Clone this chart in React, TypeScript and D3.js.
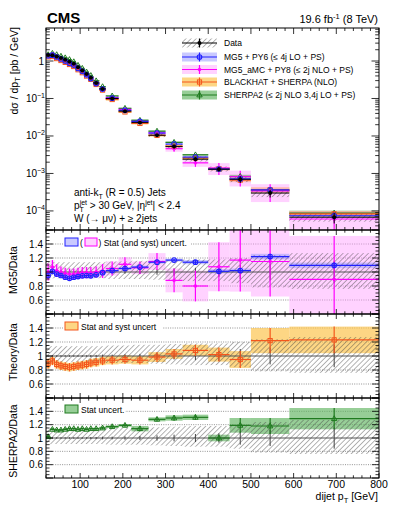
import React from "react";
import * as d3 from "d3";

// dijet pT binning [GeV]
const binEdges = [20, 30, 40, 50, 60, 70, 80, 90, 100, 110, 120, 130, 145, 160, 190, 220, 260, 300, 340, 400, 450, 500, 590, 800];

// measured cross section dsigma/dpT [pb/GeV]
const dataXsec = [1.45, 1.42, 1.32, 1.2, 1.08, 0.96, 0.84, 0.68, 0.56, 0.45, 0.36, 0.26, 0.18, 0.1, 0.046, 0.023, 0.0105, 0.0052, 0.0024, 0.0013, 0.0007, 0.0003, 0.000068];
const dataUncUp = [0.16, 0.14, 0.14, 0.14, 0.14, 0.14, 0.14, 0.14, 0.14, 0.14, 0.14, 0.14, 0.14, 0.15, 0.15, 0.16, 0.16, 0.17, 0.18, 0.18, 0.2, 0.24, 0.27];
const dataUncDown = [0.1, 0.09, 0.09, 0.09, 0.09, 0.09, 0.09, 0.09, 0.09, 0.09, 0.09, 0.09, 0.09, 0.1, 0.1, 0.1, 0.11, 0.12, 0.13, 0.13, 0.16, 0.22, 0.24];
const dataStat = [0.01, 0.01, 0.01, 0.01, 0.01, 0.01, 0.01, 0.01, 0.01, 0.01, 0.015, 0.015, 0.02, 0.02, 0.025, 0.03, 0.04, 0.05, 0.06, 0.07, 0.1, 0.12, 0.16];

// theory / data ratios and their relative uncertainties
const mg5Ratio = [0.95, 1.01, 0.97, 0.95, 0.925, 0.91, 0.925, 0.935, 0.945, 0.95, 0.945, 0.96, 0.99, 1.02, 1.05, 1.07, 1.14, 1.17, 1.14, 1.01, 1.02, 1.22, 1.095];
const mg5Unc = [0.03, 0.02, 0.02, 0.02, 0.02, 0.02, 0.02, 0.02, 0.02, 0.02, 0.02, 0.02, 0.02, 0.02, 0.02, 0.02, 0.02, 0.02, 0.03, 0.03, 0.03, 0.04, 0.04];
const amcRatio = [1.0, 1.07, 1.02, 1.0, 0.98, 0.97, 0.97, 0.98, 0.99, 0.99, 0.99, 1.0, 1.015, 1.05, 1.11, 1.06, 1.15, 0.88, 0.8, 1.075, 1.17, 1.15, 0.895];
const amcUnc = [0.12, 0.1, 0.09, 0.08, 0.08, 0.08, 0.08, 0.08, 0.08, 0.08, 0.08, 0.08, 0.1, 0.1, 0.1, 0.09, 0.12, 0.17, 0.22, 0.35, 0.45, 0.5, 0.62];
const bhRatio = [0.89, 0.93, 0.88, 0.86, 0.85, 0.84, 0.85, 0.86, 0.87, 0.88, 0.9, 0.91, 0.93, 0.94, 0.95, 0.94, 0.985, 1.03, 1.08, 1.02, 0.95, 1.22, 1.23];
const bhUnc = [0.07, 0.06, 0.06, 0.06, 0.06, 0.06, 0.06, 0.06, 0.06, 0.06, 0.06, 0.06, 0.06, 0.06, 0.06, 0.06, 0.07, 0.07, 0.08, 0.1, 0.12, 0.18, 0.19];
const sherpaRatio = [1.02, 1.13, 1.12, 1.12, 1.13, 1.14, 1.14, 1.13, 1.14, 1.13, 1.14, 1.14, 1.15, 1.17, 1.19, 1.14, 1.28, 1.3, 1.31, 1.0, 1.19, 1.18, 1.29];
const sherpaUnc = [0.02, 0.015, 0.015, 0.015, 0.015, 0.015, 0.015, 0.015, 0.015, 0.015, 0.015, 0.015, 0.02, 0.02, 0.02, 0.04, 0.03, 0.04, 0.04, 0.05, 0.11, 0.12, 0.16];

const legendLabels = ["Data", "MG5 + PY6 (\u2264 4j LO + PS)", "MG5_aMC + PY8 (\u2264 2j NLO + PS)", "BLACKHAT + SHERPA (NLO)", "SHERPA2 (\u2264 2j NLO 3,4j LO + PS)"];
const xTickLabels = [100, 200, 300, 400, 500, 600, 700, 800];
const ratioTickLabels = [0.6, 0.8, 1, 1.2, 1.4];
const mainTickExponents = [0, -1, -2, -3, -4];

const FONT = "'Liberation Sans', Arial, Helvetica, sans-serif";
const W = 399, H = 516;
const L = 46, R = 379;
const mainTop = 28, mainBot = 230;

const x = d3.scaleLinear().domain([20, 800]).range([L, R]);
const yMain = d3.scaleLog().domain([3.1e-5, 7.6]).range([mainBot, mainTop]);

const bins = binEdges.slice(0, -1).map((lo, i) => ({ lo, hi: binEdges[i + 1], c: (lo + binEdges[i + 1]) / 2 }));

type Series = { ratio: number[]; unc: number[]; line: string; fill: string; op: number; marker: string };
const MG5: Series = { ratio: mg5Ratio, unc: mg5Unc, line: "#2020ff", fill: "#9c9cff", op: 0.55, marker: "circle" };
const AMC: Series = { ratio: amcRatio, unc: amcUnc, line: "#ff00ff", fill: "#ff9cff", op: 0.45, marker: "small" };
const BH: Series = { ratio: bhRatio, unc: bhUnc, line: "#f4561c", fill: "#fcc450", op: 0.7, marker: "square" };
const SH: Series = { ratio: sherpaRatio, unc: sherpaUnc, line: "#1f7a1f", fill: "#5fb35f", op: 0.65, marker: "triangle" };

function marker(kind: string, cx: number, cy: number, color: string, key: string) {
  if (kind === "circle") return <circle key={key} cx={cx} cy={cy} r={2.3} fill="none" stroke={color} strokeWidth={1.1} />;
  if (kind === "small") return <circle key={key} cx={cx} cy={cy} r={1.4} fill="none" stroke={color} strokeWidth={1} />;
  if (kind === "square") return <rect key={key} x={cx - 2.1} y={cy - 2.1} width={4.2} height={4.2} fill="none" stroke={color} strokeWidth={1} />;
  if (kind === "triangle")
    return <path key={key} d={`M${cx},${cy - 2.9}L${cx + 2.7},${cy + 1.9}L${cx - 2.7},${cy + 1.9}Z`} fill="none" stroke={color} strokeWidth={1} />;
  return <circle key={key} cx={cx} cy={cy} r={2} fill="#000" />;
}

function XTicks({ top, bot, major, minor }: { top: number; bot: number; major: number; minor: number }) {
  const ticks = d3.range(20, 801, 20);
  return (
    <g stroke="#000" strokeWidth={0.8}>
      {ticks.map((t) => {
        const len = t % 100 === 0 ? major : minor;
        return (
          <g key={t}>
            <line x1={x(t)} x2={x(t)} y1={bot} y2={bot - len} />
            <line x1={x(t)} x2={x(t)} y1={top} y2={top + len} />
          </g>
        );
      })}
    </g>
  );
}

function RatioPanel({ top, bot, list, title, titleY, id, showX, legend }: any) {
  const y = d3.scaleLinear().domain([0.4, 1.6]).range([bot, top]);
  const minor = d3.range(0.4, 1.6001, 0.05);
  return (
    <g>
      <defs>
        <clipPath id={id}>
          <rect x={L} y={top} width={R - L} height={bot - top} />
        </clipPath>
      </defs>
      <g>
        {[0.6, 0.8, 1.2, 1.4].map((v) => (
          <line key={v} x1={L} x2={R} y1={y(v)} y2={y(v)} stroke="#777" strokeWidth={0.8} strokeDasharray="1,1.3" />
        ))}
      </g>
      <g clipPath={`url(#${id})`}>
        {list.map((s: Series, k: number) =>
          bins.map((b, i) => (
            <rect key={`b${k}-${i}`} x={x(b.lo)} width={x(b.hi) - x(b.lo)} y={y(s.ratio[i] + s.unc[i])}
              height={y(s.ratio[i] - s.unc[i]) - y(s.ratio[i] + s.unc[i])} fill={s.fill} fillOpacity={s.op} />
          ))
        )}
        <line x1={L} x2={R} y1={y(1)} y2={y(1)} stroke="#555" strokeWidth={1} />
        {bins.map((b, i) => (
          <rect key={`h${i}`} x={x(b.lo)} width={x(b.hi) - x(b.lo)} y={y(1 + dataUncUp[i])}
            height={y(1 - dataUncDown[i]) - y(1 + dataUncUp[i])} fill="url(#hatch)" />
        ))}
        {bins.map((b, i) => (
          <line key={`s${i}`} x1={x(b.c)} x2={x(b.c)} y1={y(1 - dataStat[i])} y2={y(1 + dataStat[i])} stroke="#444" strokeWidth={1} />
        ))}
        {list.map((s: Series, k: number) =>
          bins.map((b, i) => (
            <g key={`l${k}-${i}`} stroke={s.line} strokeWidth={1.2}>
              <line x1={x(b.lo)} x2={x(b.hi)} y1={y(s.ratio[i])} y2={y(s.ratio[i])} />
              <line x1={x(b.c)} x2={x(b.c)} y1={y(s.ratio[i] - s.unc[i])} y2={y(s.ratio[i] + s.unc[i])} />
            </g>
          ))
        )}
        {list.map((s: Series, k: number) => bins.map((b, i) => marker(s.marker, x(b.c), y(s.ratio[i]), s.line, `m${k}-${i}`)))}
      </g>
      {legend}
      <g stroke="#000" strokeWidth={0.8}>
        {minor.map((v) => {
          const isMajor = Math.abs(Math.round(v * 5) - v * 5) < 1e-6;
          const len = isMajor ? 7 : 3.5;
          return (
            <g key={v.toFixed(2)}>
              <line x1={L} x2={L + len} y1={y(v)} y2={y(v)} />
              <line x1={R} x2={R - len} y1={y(v)} y2={y(v)} />
            </g>
          );
        })}
      </g>
      <XTicks top={top} bot={bot} major={5} minor={2.7} />
      <rect x={L} y={top} width={R - L} height={bot - top} fill="none" stroke="#000" strokeWidth={1} />
      <g fontSize={10} textAnchor="end">
        {ratioTickLabels.map((v) => (
          <text key={v} x={43} y={y(v) + 3.5}>{String(v)}</text>
        ))}
      </g>
      <text transform={`translate(16.5,${titleY}) rotate(-90)`} textAnchor="middle" fontSize={10.5}>{title}</text>
      {showX && (
        <g fontSize={10.5} textAnchor="middle">
          {xTickLabels.map((t) => (
            <text key={t} x={x(t)} y={bot + 10}>{t}</text>
          ))}
        </g>
      )}
    </g>
  );
}

export default function App() {
  const preds = [SH, BH, AMC, MG5];
  const legendY = [43, 57, 69.5, 82, 95];
  const legendSeries = [null, MG5, AMC, BH, SH];
  const lx0 = 182, lx1 = 217, lxc = 199.5;
  return (
    <svg width={W} height={H} style={{ position: "absolute", left: 0, top: 0, fontFamily: FONT }}>
      <defs>
        <pattern id="hatch" patternUnits="userSpaceOnUse" width={3.6} height={3.6} patternTransform="rotate(45)">
          <line x1={0} y1={0} x2={0} y2={3.6} stroke="#444" strokeWidth={0.8} />
        </pattern>
        <clipPath id="clipMain">
          <rect x={L} y={mainTop} width={R - L} height={mainBot - mainTop} />
        </clipPath>
      </defs>
      <rect width={W} height={H} fill="#fff" />

      {/* main panel */}
      <g clipPath="url(#clipMain)">
        {preds.map((s, k) =>
          bins.map((b, i) => {
            const v = dataXsec[i] * s.ratio[i];
            return (
              <rect key={`mb${k}-${i}`} x={x(b.lo)} width={x(b.hi) - x(b.lo)} y={yMain(v * (1 + s.unc[i]))}
                height={yMain(v * (1 - s.unc[i])) - yMain(v * (1 + s.unc[i]))} fill={s.fill} fillOpacity={s.op} />
            );
          })
        )}
        {bins.map((b, i) => (
          <rect key={`mh${i}`} x={x(b.lo)} width={x(b.hi) - x(b.lo)} y={yMain(dataXsec[i] * (1 + dataUncUp[i]))}
            height={yMain(dataXsec[i] * (1 - dataUncDown[i])) - yMain(dataXsec[i] * (1 + dataUncUp[i]))} fill="url(#hatch)" />
        ))}
        {preds.map((s, k) =>
          bins.map((b, i) => {
            const v = dataXsec[i] * s.ratio[i];
            return (
              <g key={`ml${k}-${i}`} stroke={s.line} strokeWidth={1.2}>
                <line x1={x(b.lo)} x2={x(b.hi)} y1={yMain(v)} y2={yMain(v)} />
                <line x1={x(b.c)} x2={x(b.c)} y1={yMain(v * (1 - s.unc[i]))} y2={yMain(v * (1 + s.unc[i]))} />
              </g>
            );
          })
        )}
        {preds.map((s, k) => bins.map((b, i) => marker(s.marker, x(b.c), yMain(dataXsec[i] * s.ratio[i]), s.line, `mm${k}-${i}`)))}
        {bins.map((b, i) => (
          <g key={`md${i}`} stroke="#000" strokeWidth={1}>
            <line x1={x(b.lo)} x2={x(b.hi)} y1={yMain(dataXsec[i])} y2={yMain(dataXsec[i])} />
            <line x1={x(b.c)} x2={x(b.c)} y1={yMain(dataXsec[i] * (1 - dataStat[i] * 2))} y2={yMain(dataXsec[i] * (1 + dataStat[i] * 2))} />
          </g>
        ))}
        {bins.map((b, i) => marker("dot", x(b.c), yMain(dataXsec[i]), "#000", `mdm${i}`))}
      </g>
      <g stroke="#000" strokeWidth={0.8}>
        {yMain.ticks().map((t) => {
          const e = Math.log10(t);
          const len = Math.abs(e - Math.round(e)) < 1e-9 ? 7.5 : 3.8;
          return (
            <g key={t}>
              <line x1={L} x2={L + len} y1={yMain(t)} y2={yMain(t)} />
              <line x1={R} x2={R - len} y1={yMain(t)} y2={yMain(t)} />
            </g>
          );
        })}
      </g>
      <XTicks top={mainTop} bot={mainBot} major={6} minor={3} />
      <rect x={L} y={mainTop} width={R - L} height={mainBot - mainTop} fill="none" stroke="#000" strokeWidth={1} />
      <g fontSize={10} textAnchor="end">
        {mainTickExponents.map((e) =>
          e === 0 ? (
            <text key={e} x={44} y={yMain(1) + 3.5}>1</text>
          ) : (
            <text key={e} x={45} y={yMain(Math.pow(10, e)) + 3.5}>
              10<tspan fontSize={7} dy={-4}>{"\u2212" + -e}</tspan>
            </text>
          )
        )}
      </g>
      <text transform="translate(17.5,27) rotate(-90)" textAnchor="end" fontSize={10.5}>
        d{"\u03c3"} / dp<tspan fontSize={7.5} dy={2.5}>T</tspan><tspan dy={-2.5}>{"  [pb / GeV]"}</tspan>
      </text>

      {/* legend */}
      {legendLabels.map((lab, k) => {
        const cy = legendY[k];
        const s = legendSeries[k];
        return (
          <g key={lab}>
            {s ? (
              <g>
                <rect x={lx0} y={cy - 4.5} width={lx1 - lx0} height={9} fill={s.fill} fillOpacity={s.op} />
                <line x1={lx0} x2={lx1} y1={cy} y2={cy} stroke={s.line} strokeWidth={1.2} />
                <line x1={lxc} x2={lxc} y1={cy - 4.5} y2={cy + 4.5} stroke={s.line} strokeWidth={1.2} />
                {marker(s.marker, lxc, cy, s.line, `lg${k}`)}
              </g>
            ) : (
              <g>
                <rect x={lx0} y={cy - 4.5} width={lx1 - lx0} height={9} fill="url(#hatch)" />
                <line x1={lx0} x2={lx1} y1={cy} y2={cy} stroke="#000" strokeWidth={1.2} />
                <line x1={lxc} x2={lxc} y1={cy - 4.5} y2={cy + 4.5} stroke="#000" strokeWidth={1.2} />
                {marker("dot", lxc, cy, "#000", "lgd")}
              </g>
            )}
            <text x={224} y={cy + 3} fontSize={8.5}>{lab}</text>
          </g>
        );
      })}

      {/* labels */}
      <text x={47} y={22.5} fontSize={15} fontWeight="bold">CMS</text>
      <text x={378} y={22.5} fontSize={11} textAnchor="end">
        19.6 fb<tspan fontSize={7.5} dy={-4}>-1</tspan><tspan dy={4}> (8 TeV)</tspan>
      </text>
      <g fontSize={10}>
        <text x={74} y={196}>
          anti-k<tspan fontSize={7} dy={2.5}>T</tspan><tspan dy={-2.5}> (R = 0.5) Jets</tspan>
        </text>
        <text x={74} y={209}>
          p<tspan fontSize={7} dy={2.5}>T</tspan><tspan fontSize={7} dx={-4.2} dy={-7}>jet</tspan>
          <tspan dy={4.5}>{" > 30 GeV, |\u03b7"}</tspan><tspan fontSize={7} dy={-4}>jet</tspan><tspan dy={4}>{"| < 2.4"}</tspan>
        </text>
        <text x={74} y={222}>W ({"\u2192"} {"\u03bc\u03bd"}) + {"\u2265"} 2jets</text>
      </g>

      {/* ratio panels */}
      <RatioPanel top={230} bot={314} list={[AMC, MG5]} title="MG5/Data" titleY={270} id="cr1"
        legend={
          <g fontSize={8.5}>
            <rect x={63} y={237} width={128} height={10} fill="#fff" />
            <rect x={65} y={238} width={13} height={8} fill={MG5.fill} fillOpacity={MG5.op} stroke={MG5.line} strokeWidth={1} />
            <text x={80} y={245.5}>(</text>
            <rect x={85} y={238} width={12} height={8} fill={AMC.fill} fillOpacity={AMC.op} stroke={AMC.line} strokeWidth={1} />
            <text x={98.5} y={245.5}>) Stat (and syst) uncert.</text>
          </g>
        } />
      <RatioPanel top={314} bot={398} list={[BH]} title="Theory/Data" titleY={352} id="cr2"
        legend={
          <g fontSize={8.5}>
            <rect x={63} y={321} width={100} height={10} fill="#fff" />
            <rect x={65} y={322} width={13} height={8} fill={BH.fill} fillOpacity={BH.op} stroke={BH.line} strokeWidth={1} />
            <text x={81} y={329.5}>Stat and syst uncert</text>
          </g>
        } />
      <RatioPanel top={398} bot={478} list={[SH]} title="SHERPA2/Data" titleY={441} id="cr3" showX
        legend={
          <g fontSize={8.5}>
            <rect x={63} y={404} width={62} height={10} fill="#fff" />
            <rect x={65} y={405} width={13} height={8} fill={SH.fill} fillOpacity={SH.op} stroke={SH.line} strokeWidth={1} />
            <text x={81} y={412.5}>Stat uncert.</text>
          </g>
        } />
      <text x={378} y={500} fontSize={10.5} textAnchor="end">
        dijet p<tspan fontSize={7.5} dy={2.5}>T</tspan><tspan dy={-2.5}> [GeV]</tspan>
      </text>
    </svg>
  );
}
